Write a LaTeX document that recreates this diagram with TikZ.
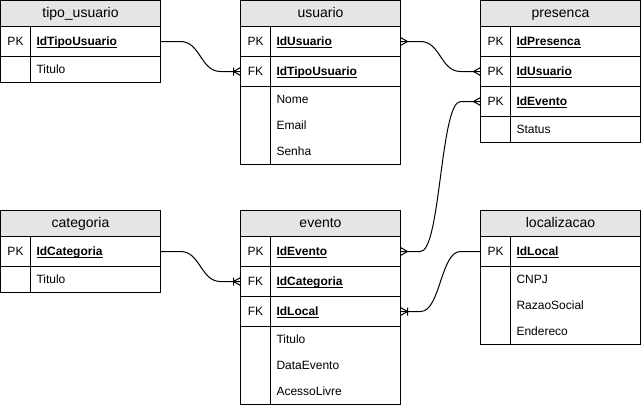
\documentclass[tikz,border=0pt]{standalone}
\usepackage{fontspec}
\setmainfont{Liberation Sans}
\usetikzlibrary{positioning,calc}

\newcommand{\keycell}[1]{\makebox[22.5pt]{#1}\hspace{4.5pt}}
\newcommand{\keyname}[1]{\underline{\smash{\textbf{#1}}}}

\tikzset{
    many/.pic={\draw (-7,0) -- (0,-4) (-7,0) -- (0,4);},
    onemany/.pic={\draw (-7,0) -- (0,-4) (-7,0) -- (0,4) (-7,-4) -- (-7,4);}
}

\begin{document}
\begin{tikzpicture}[x=0.75pt, y=-0.75pt, line width=0.75pt,
        hdr/.style={draw, fill=gray!20, anchor=north west, minimum width=120pt, minimum height=19.5pt, inner sep=0pt, outer sep=0pt, text height=7.5pt, text depth=1.5pt, font=\fontsize{10.5}{12}\selectfont},
        keyrow/.style={draw, minimum width=120pt, minimum height=22.5pt, inner sep=0pt, outer sep=0pt, text width=120pt, align=left, text height=6.45pt, text depth=0pt, font=\fontsize{9}{11}\selectfont},
        attr/.style={keyrow, draw=none, minimum height=19.5pt}]
            \useasboundingbox (-0.5, -0.5) rectangle (640.5, 406.5);

            \node[hdr] (tipo) at (0, 0) {tipo\_usuario};
            \node[keyrow, below=0pt of tipo] (tipo-pk) {\keycell{PK}\keyname{IdTipoUsuario}};
            \node[attr, below=0pt of tipo-pk] (tipo-a1) {\keycell{}Titulo};
            \draw (tipo-a1.north west) rectangle (tipo-a1.south east);
            \draw ([xshift=22.5pt]tipo-pk.north west) -- ([xshift=22.5pt]tipo-a1.south west);

            \node[hdr] (usuario) at (240, 0) {usuario};
            \node[keyrow, below=0pt of usuario] (usuario-pk) {\keycell{PK}\keyname{IdUsuario}};
            \node[keyrow, below=0pt of usuario-pk] (usuario-fk) {\keycell{FK}\keyname{IdTipoUsuario}};
            \node[attr, below=0pt of usuario-fk] (usuario-a1) {\keycell{}Nome};
            \node[attr, below=0pt of usuario-a1] (usuario-a2) {\keycell{}Email};
            \node[attr, below=0pt of usuario-a2] (usuario-a3) {\keycell{}Senha};
            \draw (usuario-a1.north west) rectangle (usuario-a3.south east);
            \draw ([xshift=22.5pt]usuario-pk.north west) -- ([xshift=22.5pt]usuario-a3.south west);

            \node[hdr] (presenca) at (480, 0) {presenca};
            \node[keyrow, below=0pt of presenca] (presenca-pk) {\keycell{PK}\keyname{IdPresenca}};
            \node[keyrow, below=0pt of presenca-pk] (presenca-us) {\keycell{PK}\keyname{IdUsuario}};
            \node[keyrow, below=0pt of presenca-us] (presenca-ev) {\keycell{PK}\keyname{IdEvento}};
            \node[attr, below=0pt of presenca-ev] (presenca-a1) {\keycell{}Status};
            \draw (presenca-a1.north west) rectangle (presenca-a1.south east);
            \draw ([xshift=22.5pt]presenca-pk.north west) -- ([xshift=22.5pt]presenca-a1.south west);

            \node[hdr] (categoria) at (0, 210) {categoria};
            \node[keyrow, below=0pt of categoria] (categoria-pk) {\keycell{PK}\keyname{IdCategoria}};
            \node[attr, below=0pt of categoria-pk] (categoria-a1) {\keycell{}Titulo};
            \draw (categoria-a1.north west) rectangle (categoria-a1.south east);
            \draw ([xshift=22.5pt]categoria-pk.north west) -- ([xshift=22.5pt]categoria-a1.south west);

            \node[hdr] (evento) at (240, 210) {evento};
            \node[keyrow, below=0pt of evento] (evento-pk) {\keycell{PK}\keyname{IdEvento}};
            \node[keyrow, below=0pt of evento-pk] (evento-cat) {\keycell{FK}\keyname{IdCategoria}};
            \node[keyrow, below=0pt of evento-cat] (evento-loc) {\keycell{FK}\keyname{IdLocal}};
            \node[attr, below=0pt of evento-loc] (evento-a1) {\keycell{}Titulo};
            \node[attr, below=0pt of evento-a1] (evento-a2) {\keycell{}DataEvento};
            \node[attr, below=0pt of evento-a2] (evento-a3) {\keycell{}AcessoLivre};
            \draw (evento-a1.north west) rectangle (evento-a3.south east);
            \draw ([xshift=22.5pt]evento-pk.north west) -- ([xshift=22.5pt]evento-a3.south west);

            \node[hdr] (local) at (480, 210) {localizacao};
            \node[keyrow, below=0pt of local] (local-pk) {\keycell{PK}\keyname{IdLocal}};
            \node[attr, below=0pt of local-pk] (local-a1) {\keycell{}CNPJ};
            \node[attr, below=0pt of local-a1] (local-a2) {\keycell{}RazaoSocial};
            \node[attr, below=0pt of local-a2] (local-a3) {\keycell{}Endereco};
            \draw (local-a1.north west) rectangle (local-a3.south east);
            \draw ([xshift=22.5pt]local-pk.north west) -- ([xshift=22.5pt]local-a3.south west);

            \draw (tipo-pk.east) -- ++(20, 0) .. controls +(20, 0) and +(-20, 0) .. ($(usuario-fk.west)+(-20, 0)$) -- (usuario-fk.west);
            \draw (usuario-pk.east) -- ++(20, 0) .. controls +(20, 0) and +(-20, 0) .. ($(presenca-us.west)+(-20, 0)$) -- (presenca-us.west);
            \draw (evento-pk.east) -- ++(20, 0) .. controls +(20, 0) and +(-20, 0) .. ($(presenca-ev.west)+(-20, 0)$) -- (presenca-ev.west);
            \draw (categoria-pk.east) -- ++(20, 0) .. controls +(20, 0) and +(-20, 0) .. ($(evento-cat.west)+(-20, 0)$) -- (evento-cat.west);
            \draw (evento-loc.east) -- ++(20, 0) .. controls +(20, 0) and +(-20, 0) .. ($(local-pk.west)+(-20, 0)$) -- (local-pk.west);

            \pic at (usuario-fk.west) {onemany};
            \pic[rotate=180] at (usuario-pk.east) {many};
            \pic at (presenca-us.west) {many};
            \pic at (presenca-ev.west) {many};
            \pic[rotate=180] at (evento-pk.east) {many};
            \pic at (evento-cat.west) {onemany};
            \pic[rotate=180] at (evento-loc.east) {onemany};
        \end{tikzpicture}
\end{document}
